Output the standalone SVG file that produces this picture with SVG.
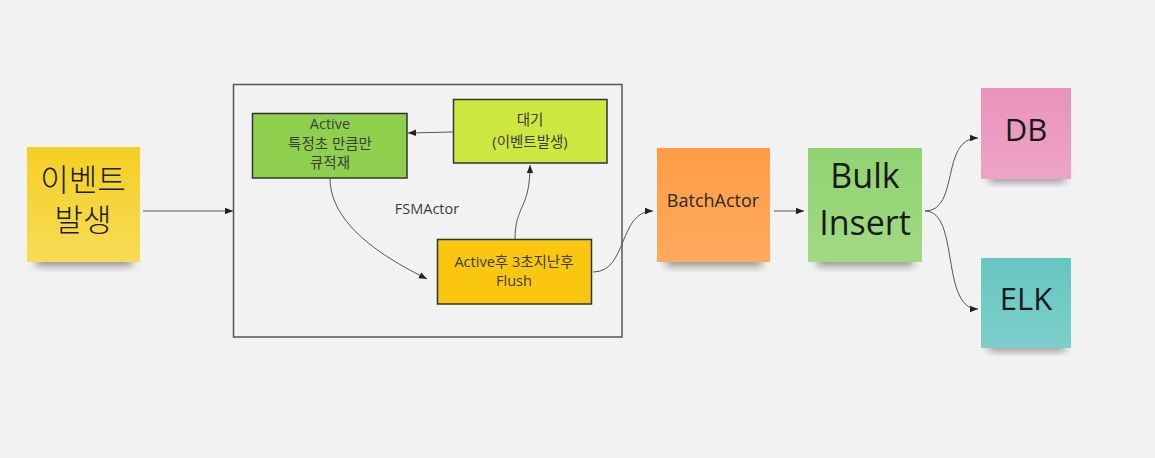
<svg xmlns="http://www.w3.org/2000/svg" width="1155" height="458" viewBox="0 0 1155 458">
<defs>
<style>
.bg{fill:#f2f2f2}
.frame{fill:none;stroke:#555;stroke-width:1.5}
.box{stroke:#333;stroke-width:1.5}
.t{font-family:"Open Sans","Noto Sans","Noto Sans CJK KR",sans-serif;text-anchor:middle}
.sm{font-size:14.5px;fill:#3d3d3d}
.big{font-size:31px;fill:#1a1a1a;font-family:"Noto Sans CJK KR",sans-serif;font-weight:300}
.mid{font-size:18px;fill:#2a2a2a}
.conn{fill:none;stroke:#555;stroke-width:1;marker-end:url(#arr)}
.shadow{fill:#000;opacity:0.4;filter:url(#blur)}
</style>
<marker id="arr" viewBox="0 0 10 10" refX="10" refY="5" markerWidth="10" markerHeight="8" markerUnits="userSpaceOnUse" orient="auto">
<path d="M0,1 L10,5 L0,9 Z" fill="#222"/>
</marker>
<filter id="blur" x="-20%" y="-50%" width="140%" height="200%"><feGaussianBlur stdDeviation="4"/></filter>
<linearGradient id="gY" x1="0" y1="0" x2="0" y2="1"><stop offset="0" stop-color="#f4cf25"/><stop offset="1" stop-color="#f7dc55"/></linearGradient>
<linearGradient id="gO" x1="0" y1="0" x2="0" y2="1"><stop offset="0" stop-color="#ff9c45"/><stop offset="1" stop-color="#ffaa5e"/></linearGradient>
<linearGradient id="gG" x1="0" y1="0" x2="0" y2="1"><stop offset="0" stop-color="#90d372"/><stop offset="1" stop-color="#a2d984"/></linearGradient>
<linearGradient id="gP" x1="0" y1="0" x2="0" y2="1"><stop offset="0" stop-color="#e993ba"/><stop offset="1" stop-color="#eea4c6"/></linearGradient>
<linearGradient id="gT" x1="0" y1="0" x2="0" y2="1"><stop offset="0" stop-color="#66c6c0"/><stop offset="1" stop-color="#7dcfca"/></linearGradient>
</defs>
<rect class="bg" x="0" y="0" width="1155" height="458"/>

<g id="event">
<rect class="shadow" x="36" y="254" width="96" height="12"/>
<rect x="27" y="147" width="113" height="115" fill="url(#gY)"/>
<text class="t big" x="83" y="191">이벤트</text>
<text class="t big" x="83" y="231">발생</text>
</g>

<g id="fsm">
<rect class="frame" x="233.5" y="84.5" width="388.5" height="252.5"/>
<text class="t sm" x="427" y="214">FSMActor</text>
</g>

<g id="active">
<rect class="box" x="252.5" y="113.5" width="154.5" height="64.5" fill="#8fd14f"/>
<text class="t sm" x="330" y="129">Active</text>
<text class="t sm" x="330" y="149">특정초 만큼만</text>
<text class="t sm" x="330" y="168">큐적재</text>
</g>

<g id="wait">
<rect class="box" x="453.5" y="99.5" width="153.5" height="63.5" fill="#cee741"/>
<text class="t sm" x="530" y="125">대기</text>
<text class="t sm" x="530" y="147">(이벤트발생)</text>
</g>

<g id="flush">
<rect class="box" x="437.5" y="239.5" width="154" height="64.5" fill="#fac710"/>
<text class="t sm" x="514" y="267">Active후 3초지난후</text>
<text class="t sm" x="514" y="286">Flush</text>
</g>

<g id="batch">
<rect class="shadow" x="666" y="254" width="96" height="12"/>
<rect x="657" y="148" width="113" height="114" fill="url(#gO)"/>
<text class="t mid" x="713" y="207">BatchActor</text>
</g>

<g id="bulk">
<rect class="shadow" x="817" y="254" width="96" height="12"/>
<rect x="808" y="148" width="114" height="114" fill="url(#gG)"/>
<text class="t" x="865" y="188" style="font-size:34px;fill:#1a1a1a">Bulk</text>
<text class="t" x="865" y="235" style="font-size:34px;fill:#1a1a1a">Insert</text>
</g>

<g id="db">
<rect class="shadow" x="989" y="172" width="76" height="10"/>
<rect x="981" y="88" width="90" height="91" fill="url(#gP)"/>
<text class="t" x="1026" y="141" style="font-size:31px;fill:#1a1a1a">DB</text>
</g>

<g id="elk">
<rect class="shadow" x="989" y="341" width="76" height="10"/>
<rect x="981" y="258" width="90" height="90" fill="url(#gT)"/>
<text class="t" x="1026" y="310" style="font-size:31px;fill:#1a1a1a">ELK</text>
</g>

<g id="connectors">
<path class="conn" d="M143,211 L233,211"/>
<path class="conn" d="M453,132 L408,133"/>
<path class="conn" d="M330,178 C330,225 385,258 427,279"/>
<path class="conn" d="M515,239 C515,205 530,210 530,165"/>
<path class="conn" d="M593,272 C628,272 618,211 653,211"/>
<path class="conn" d="M774,211 L804,211"/>
<path class="conn" d="M925,211 C960,211 940,138 978,138"/>
<path class="conn" d="M925,211 C960,211 940,309 978,309"/>
</g>
</svg>
